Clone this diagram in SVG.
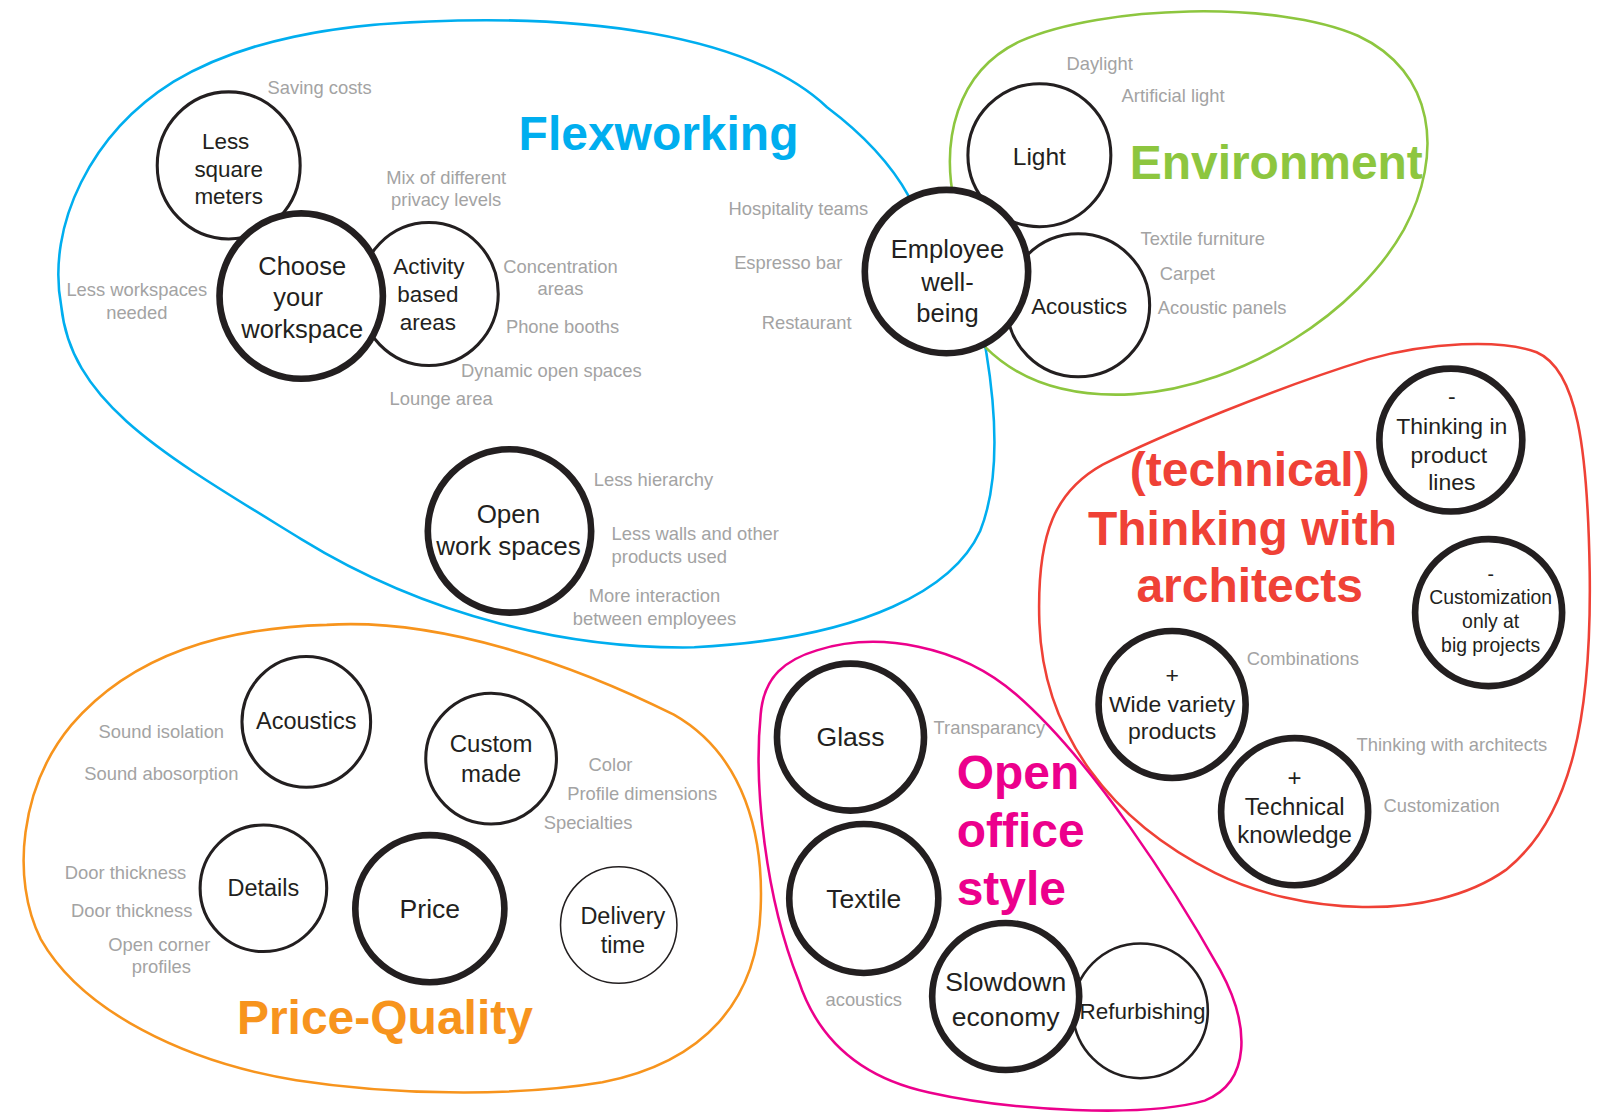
<svg xmlns="http://www.w3.org/2000/svg" width="1600" height="1116" viewBox="0 0 1600 1116">
<style>
.blob{fill:none;stroke-width:2.5}
.n{fill:#fff;stroke:#231f20}
.thick{stroke-width:6.5}
.thin{stroke-width:3}
.t{font-family:"Liberation Sans",Arial,sans-serif;fill:#231f20;text-anchor:middle}
.l{font-family:"Liberation Sans",Arial,sans-serif;fill:#a3a3a3;font-size:18px;text-anchor:middle}
.l.s{text-anchor:start}
.h{font-family:"Liberation Sans",Arial,sans-serif;font-weight:bold;font-size:47px}
</style>
<rect width="1600" height="1116" fill="#fff"/>
<g transform="scale(1.021)">
<g id="outlines">
<path class="blob" stroke="#00AEEF" d="M420,21 C560,15 730,30 810,105 C850,135 875,165 890,192 C930,260 960,300 966,345 C975,400 980,470 960,520 C935,575 850,625 680,634 C560,636 420,605 295,528 C160,445 70,395 60,300 C45,220 90,130 170,80 C240,38 330,24 420,21 Z"/>
<path class="blob" stroke="#8DC63F" d="M935,200 C922,140 935,70 1000,40 C1080,5 1250,0 1330,35 C1405,70 1415,150 1375,225 C1330,305 1220,378 1110,386 C1040,390 995,370 965,340"/>
<path class="blob" stroke="#EF4136" d="M1505,345 C1545,362 1555,440 1557,560 C1559,700 1540,800 1475,852 C1400,905 1270,895 1190,855 C1090,805 1022,720 1018,610 C1015,520 1035,480 1080,455 C1140,425 1250,380 1340,352 C1400,335 1470,332 1505,345 Z"/>
<path class="blob" stroke="#F7941D" d="M320,612 C430,605 560,650 660,700 C730,740 748,820 745,890 C742,980 690,1040 590,1060 C500,1075 380,1072 290,1058 C180,1040 80,990 40,920 C10,860 20,770 70,710 C130,640 220,615 320,612 Z"/>
<path class="blob" stroke="#EC008C" d="M800,637 C860,618 940,632 995,680 C1070,745 1150,870 1195,950 C1225,1005 1225,1060 1180,1078 C1120,1095 990,1088 910,1070 C840,1055 800,1015 782,960 C750,880 738,770 745,700 C748,662 770,646 800,637 Z"/>
</g>
<g id="titles">
<text class="h" x="645" y="147" fill="#00AEEF" text-anchor="middle">Flexworking</text>
<text class="h" x="1250" y="175" fill="#8DC63F" text-anchor="middle">Environment</text>
<text class="h" fill="#EF4136" text-anchor="middle"><tspan x="1224" y="476">(technical)</tspan><tspan x="1217" y="534">Thinking with</tspan><tspan x="1224" y="590">architects</tspan></text>
<text class="h" x="377" y="1013" fill="#F7941D" text-anchor="middle">Price-Quality</text>
<text class="h" fill="#EC008C"><tspan x="937" y="773">Open</tspan><tspan x="937" y="830">office</tspan><tspan x="937" y="886">style</tspan></text>
</g>
<g id="labels">
<text class="l" x="313" y="92">Saving costs</text>
<text class="l" x="437" y="180">Mix of different</text>
<text class="l" x="437" y="202">privacy levels</text>
<text class="l" x="134" y="290">Less workspaces</text>
<text class="l" x="134" y="312">needed</text>
<text class="l" x="549" y="267">Concentration</text>
<text class="l" x="549" y="289">areas</text>
<text class="l" x="551" y="326">Phone booths</text>
<text class="l" x="540" y="369">Dynamic open spaces</text>
<text class="l" x="432" y="397">Lounge area</text>
<text class="l" x="640" y="476">Less hierarchy</text>
<text class="l s" x="599" y="529">Less walls and other</text>
<text class="l s" x="599" y="551">products used</text>
<text class="l" x="641" y="590">More interaction</text>
<text class="l" x="641" y="612">between employees</text>
<text class="l" x="782" y="211">Hospitality teams</text>
<text class="l" x="772" y="263">Espresso bar</text>
<text class="l" x="790" y="322">Restaurant</text>
<text class="l" x="1077" y="69">Daylight</text>
<text class="l" x="1149" y="100">Artificial light</text>
<text class="l" x="1178" y="240">Textile furniture</text>
<text class="l" x="1163" y="274">Carpet</text>
<text class="l" x="1197" y="308">Acoustic panels</text>
<text class="l" x="1276" y="651">Combinations</text>
<text class="l" x="1422" y="736">Thinking with architects</text>
<text class="l" x="1412" y="795">Customization</text>
<text class="l" x="158" y="723">Sound isolation</text>
<text class="l" x="158" y="764">Sound abosorption</text>
<text class="l" x="598" y="755">Color</text>
<text class="l" x="629" y="784">Profile dimensions</text>
<text class="l" x="576" y="812">Specialties</text>
<text class="l" x="123" y="861">Door thickness</text>
<text class="l" x="129" y="898">Door thickness</text>
<text class="l" x="156" y="931">Open corner</text>
<text class="l" x="158" y="953">profiles</text>
<text class="l" x="969" y="719">Transparancy</text>
<text class="l" x="846" y="985">acoustics</text>
</g>
<g id="node-less-square-meters">
<ellipse class="n thin" cx="224" cy="162" rx="70" ry="72"/>
<text class="t" font-size="22"><tspan x="221" y="146">Less</tspan><tspan x="224" y="173">square</tspan><tspan x="224" y="200">meters</tspan></text>
</g>
<g id="node-activity-based-areas">
<ellipse class="n thin" cx="420" cy="288" rx="68" ry="70"/>
<text class="t" font-size="22"><tspan x="420" y="268">Activity</tspan><tspan x="419" y="296">based</tspan><tspan x="419" y="323">areas</tspan></text>
</g>
<g id="node-choose-your-workspace">
<ellipse class="n thick" cx="295" cy="290" rx="80" ry="81"/>
<text class="t" font-size="25"><tspan x="296" y="269">Choose</tspan><tspan x="292" y="300">your</tspan><tspan x="296" y="331">workspace</tspan></text>
</g>
<g id="node-open-work-spaces">
<circle class="n thick" cx="499" cy="520" r="80"/>
<text class="t" font-size="25.5"><tspan x="498" y="512">Open</tspan><tspan x="498" y="544">work spaces</tspan></text>
</g>
<g id="node-light">
<circle class="n thin" cx="1018" cy="152" r="70"/>
<text class="t" font-size="24" x="1018" y="162">Light</text>
</g>
<g id="node-env-acoustics">
<circle class="n thin" cx="1056" cy="299" r="70"/>
<text class="t" font-size="22" x="1057" y="308">Acoustics</text>
</g>
<g id="node-employee-well-being">
<circle class="n thick" cx="927" cy="266" r="80"/>
<text class="t" font-size="25"><tspan x="928" y="253">Employee</tspan><tspan x="928" y="285">well-</tspan><tspan x="928" y="315">being</tspan></text>
</g>
<g id="node-thinking-in-product-lines">
<circle class="n thick" cx="1421" cy="431" r="70"/>
<text class="t" font-size="22.5"><tspan x="1422" y="396">-</tspan><tspan x="1422" y="425">Thinking in</tspan><tspan x="1419" y="453">product</tspan><tspan x="1422" y="480">lines</tspan></text>
</g>
<g id="node-customization-big-projects">
<circle class="n thick" cx="1458" cy="600" r="72"/>
<text class="t" font-size="19"><tspan x="1460" y="569">-</tspan><tspan x="1460" y="592">Customization</tspan><tspan x="1460" y="615">only at</tspan><tspan x="1460" y="639">big projects</tspan></text>
</g>
<g id="node-wide-variety-products">
<circle class="n thick" cx="1148" cy="690" r="72"/>
<text class="t" font-size="22.5"><tspan x="1148" y="669">+</tspan><tspan x="1148" y="697">Wide variety</tspan><tspan x="1148" y="724">products</tspan></text>
</g>
<g id="node-technical-knowledge">
<circle class="n thick" cx="1268" cy="795" r="72"/>
<text class="t" font-size="23.5"><tspan x="1268" y="770">+</tspan><tspan x="1268" y="798">Technical</tspan><tspan x="1268" y="826">knowledge</tspan></text>
</g>
<g id="node-pq-acoustics">
<ellipse class="n thin" cx="300" cy="707" rx="63" ry="64"/>
<text class="t" font-size="23" x="300" y="714">Acoustics</text>
</g>
<g id="node-custom-made">
<circle class="n thin" cx="481" cy="743" r="64"/>
<text class="t" font-size="23.5"><tspan x="481" y="737">Custom</tspan><tspan x="481" y="766">made</tspan></text>
</g>
<g id="node-details">
<circle class="n thin" cx="258" cy="870" r="62"/>
<text class="t" font-size="23" x="258" y="878">Details</text>
</g>
<g id="node-price">
<ellipse class="n thick" cx="421" cy="890" rx="73" ry="72"/>
<text class="t" font-size="26" x="421" y="899">Price</text>
</g>
<g id="node-delivery-time">
<circle class="n" stroke-width="1.5" cx="606" cy="906" r="57"/>
<text class="t" font-size="23"><tspan x="610" y="905">Delivery</tspan><tspan x="610" y="933">time</tspan></text>
</g>
<g id="node-glass">
<circle class="n thick" cx="833" cy="722" r="72"/>
<text class="t" font-size="26" x="833" y="731">Glass</text>
</g>
<g id="node-textile">
<circle class="n thick" cx="846" cy="880" r="73"/>
<text class="t" font-size="26" x="846" y="889">Textile</text>
</g>
<g id="node-refurbishing">
<circle class="n" stroke-width="2.5" cx="1117" cy="990" r="66"/>
<text class="t" font-size="22" x="1119" y="998">Refurbishing</text>
</g>
<g id="node-slowdown-economy">
<circle class="n thick" cx="985" cy="976" r="72"/>
<text class="t" font-size="26"><tspan x="985" y="971">Slowdown</tspan><tspan x="985" y="1005">economy</tspan></text>
</g>
</g>
</svg>
